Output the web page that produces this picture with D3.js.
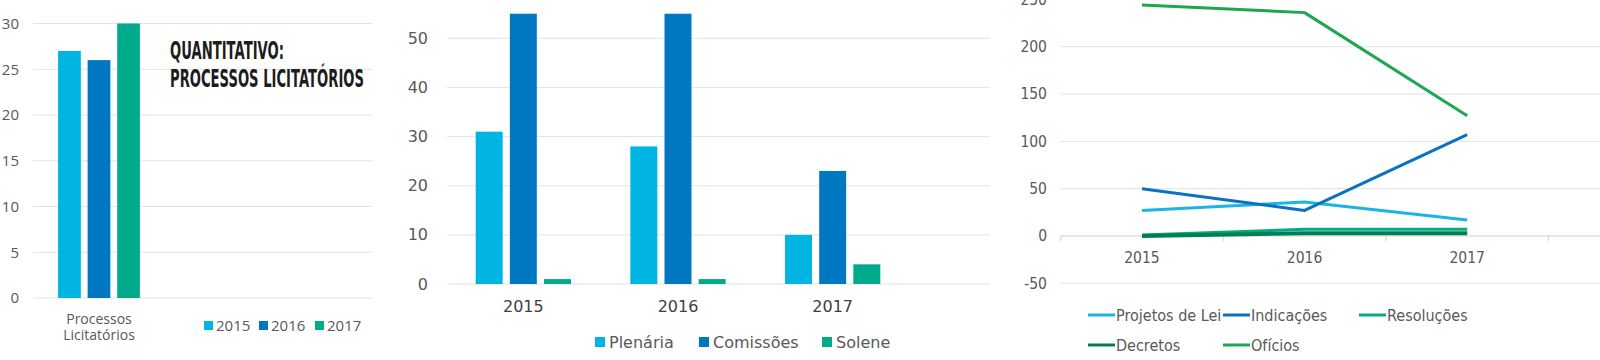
<!DOCTYPE html>
<html>
<head>
<meta charset="utf-8">
<script src="https://cdn.jsdelivr.net/npm/d3@7"></script>
<style>
  body { margin: 0; background: #fff; }
  svg { display: block; }
</style>
</head>
<body>
<svg id="chart" width="1600" height="360"></svg>
<script>
    // ---- data ----
    var years = ['2015', '2016', '2017'];

    // panel 1: processos licitatorios
    var licCategories = ['Processos Licitatórios'];
    var licValues = [27, 26, 30];            // 2015, 2016, 2017
    var licTicks = [0, 5, 10, 15, 20, 25, 30];

    // panel 2: sessoes
    var sessionSeries = ['Plenária', 'Comissões', 'Solene'];
    var plenaria = [31, 28, 10];
    var comissoes = [55, 55, 23];
    var solene = [1, 1, 4];
    var sessionTicks = [0, 10, 20, 30, 40, 50];

    // panel 3: proposicoes
    var propSeries = ['Projetos de Lei', 'Indicações', 'Resoluções', 'Decretos', 'Ofícios'];
    var projetos = [27, 36, 17];
    var indicacoes = [50, 27, 107];
    var resolucoes = [1, 7, 7];
    var decretos = [0, 3, 3];
    var oficios = [244, 236, 127];
    var propTicks = [-50, 0, 50, 100, 150, 200, 250];

    var barColors = ['#00b5e2', '#0078c1', '#00ab8c'];
    var lineColors = ['#1ab4e6', '#0a72c0', '#00ab8c', '#00804e', '#1ea651'];

    var chart = d3.select('#chart');
    var gridColor = '#e3e3e3';
    var labelColor = '#595959';

    // -----------------------------------
    // Panel 1
    var p1 = chart.append('g');
    var y1 = d3.scaleLinear().domain([0, 30]).range([298, 23.5]);
    var x1 = d3.scaleBand().domain(licCategories).range([33, 165]).paddingInner(0.38).paddingOuter(0.19);
    var x1s = d3.scaleBand().domain(years).range([0, x1.bandwidth()]).paddingInner(0.23);

    p1.selectAll('line.grid').data(licTicks).enter().append('line')
        .attr('x1', 33).attr('x2', 372)
        .attr('y1', function(d){ return y1(d); }).attr('y2', function(d){ return y1(d); })
        .attr('stroke', gridColor).attr('stroke-width', 1);

    p1.selectAll('text.tick').data(licTicks).enter().append('text')
        .attr('x', 19).attr('y', function(d){ return y1(d); })
        .attr('dy', '0.35em').attr('text-anchor', 'end')
        .style('font', '15px "Open Sans"').attr('fill', labelColor)
        .text(function(d){ return d; });

    p1.selectAll('rect.bar').data(licValues).enter().append('rect')
        .attr('x', function(d, i){ return x1(licCategories[0]) + x1s(years[i]); })
        .attr('y', function(d){ return y1(d); })
        .attr('width', x1s.bandwidth())
        .attr('height', function(d){ return y1(0) - y1(d); })
        .attr('fill', function(d, i){ return barColors[i]; });

    var catLabel = p1.append('text')
        .attr('x', x1(licCategories[0]) + x1.bandwidth() / 2).attr('y', 324)
        .attr('text-anchor', 'middle')
        .style('font', '14px "Open Sans"').attr('fill', labelColor);
    catLabel.append('tspan').attr('x', x1(licCategories[0]) + x1.bandwidth() / 2).text('Processos');
    catLabel.append('tspan').attr('x', x1(licCategories[0]) + x1.bandwidth() / 2).attr('dy', 16).text('Licitatórios');

    var leg1X = [204, 259, 315];
    years.forEach(function(yr, i) {
        p1.append('rect').attr('x', leg1X[i]).attr('y', 321).attr('width', 9).attr('height', 9).attr('fill', barColors[i]);
        p1.append('text').attr('x', leg1X[i] + 12).attr('y', 325.5).attr('dy', '0.35em')
            .style('font', '15px "Open Sans"').attr('fill', labelColor).text(yr);
    });

    // title, squeezed horizontally to a condensed look
    function title(txt, y, w) {
        var t = p1.append('text').attr('x', 0).attr('y', 0)
            .style('font', 'bold 25px "DejaVu Sans"')
            .attr('fill', '#1c1c1c').text(txt);
        var sx = w / t.node().getComputedTextLength();
        t.attr('transform', 'translate(170,' + y + ') scale(' + sx + ',1)');
    }
    title('QUANTITATIVO:', 59, 114);
    title('PROCESSOS LICITATÓRIOS', 87, 194);

    // -----------------------------------
    // Panel 2
    var p2 = chart.append('g');
    var y2 = d3.scaleLinear().domain([0, 50]).range([284, 38.3]);
    var x2 = d3.scaleBand().domain(years).range([446, 910]).paddingInner(0.384).paddingOuter(0.192);
    var x2s = d3.scaleBand().domain(sessionSeries).range([0, x2.bandwidth()]).paddingInner(0.21);
    var sessionData = [plenaria, comissoes, solene];

    p2.selectAll('line.grid').data(sessionTicks).enter().append('line')
        .attr('x1', 447).attr('x2', 990)
        .attr('y1', function(d){ return y2(d); }).attr('y2', function(d){ return y2(d); })
        .attr('stroke', gridColor).attr('stroke-width', 1);

    p2.selectAll('text.tick').data(sessionTicks).enter().append('text')
        .attr('x', 428).attr('y', function(d){ return y2(d); })
        .attr('dy', '0.35em').attr('text-anchor', 'end')
        .style('font', '16px "DejaVu Sans"').attr('fill', labelColor)
        .text(function(d){ return d; });

    sessionSeries.forEach(function(s, si) {
        p2.selectAll('rect.s' + si).data(sessionData[si]).enter().append('rect')
            .attr('x', function(d, i){ return x2(years[i]) + x2s(s); })
            .attr('y', function(d){ return y2(d); })
            .attr('width', x2s.bandwidth())
            .attr('height', function(d){ return y2(0) - y2(d); })
            .attr('fill', barColors[si]);
    });

    p2.selectAll('text.xl').data(years).enter().append('text')
        .attr('x', function(d){ return x2(d) + x2.bandwidth() / 2; }).attr('y', 306)
        .attr('dy', '0.35em').attr('text-anchor', 'middle')
        .style('font', '16px "DejaVu Sans"').attr('fill', '#404040')
        .text(function(d){ return d; });

    var leg2X = [595, 699, 822];
    sessionSeries.forEach(function(s, i) {
        p2.append('rect').attr('x', leg2X[i]).attr('y', 337).attr('width', 10).attr('height', 10).attr('fill', barColors[i]);
        p2.append('text').attr('x', leg2X[i] + 14).attr('y', 342).attr('dy', '0.35em')
            .style('font', '16px "DejaVu Sans"').attr('fill', labelColor).text(s);
    });

    // -----------------------------------
    // Panel 3
    var p3 = chart.append('g');
    var y3 = d3.scaleLinear().domain([0, 200]).range([236, 46.7]);
    var x3b = d3.scaleBand().domain(years).range([1060.7, 1548.5]);
    var x3 = function(d){ return x3b(d) + x3b.bandwidth() / 2; };
    var propData = [projetos, indicacoes, resolucoes, decretos, oficios];

    p3.selectAll('line.grid').data(propTicks.filter(function(d){ return d !== 0; })).enter().append('line')
        .attr('x1', 1060.7).attr('x2', 1600)
        .attr('y1', function(d){ return y3(d); }).attr('y2', function(d){ return y3(d); })
        .attr('stroke', gridColor).attr('stroke-width', 1);

    // zero axis with ticks between categories
    var xAxis = d3.axisBottom(x3b).tickSize(0).tickFormat('');
    p3.append('g').attr('transform', 'translate(0,' + y3(0) + ')').call(xAxis)
        .call(function(g){ g.select('.domain').attr('stroke', '#d0d0d0').attr('d', 'M1060.7,0H1600'); });
    p3.selectAll('line.xt').data([0, 1, 2, 3]).enter().append('line')
        .attr('x1', function(d){ return 1060.7 + d * x3b.step(); })
        .attr('x2', function(d){ return 1060.7 + d * x3b.step(); })
        .attr('y1', y3(0)).attr('y2', y3(0) + 5)
        .attr('stroke', '#d0d0d0');

    p3.selectAll('text.tick').data(propTicks).enter().append('text')
        .attr('x', 1047).attr('y', function(d){ return y3(d); })
        .attr('dy', '0.35em').attr('text-anchor', 'end')
        .style('font', '15.5px "DejaVu Sans Condensed", "DejaVu Sans"').attr('fill', labelColor)
        .text(function(d){ return d; });

    p3.selectAll('text.xl').data(years).enter().append('text')
        .attr('x', function(d){ return x3(d); }).attr('y', 258)
        .attr('dy', '0.35em').attr('text-anchor', 'middle')
        .style('font', '15.5px "DejaVu Sans Condensed", "DejaVu Sans"').attr('fill', labelColor)
        .text(function(d){ return d; });

    var line = d3.line()
        .x(function(d, i){ return x3(years[i]); })
        .y(function(d){ return y3(d); });

    propData.forEach(function(vals, si) {
        p3.append('path').datum(vals)
            .attr('d', line)
            .attr('fill', 'none')
            .attr('stroke', lineColors[si])
            .attr('stroke-width', si === 3 ? 4 : 3)
            .attr('stroke-linejoin', 'round');
    });

    var leg3Pos = [[1088, 315], [1223, 315], [1359, 315], [1088, 345], [1223, 345]];
    propSeries.forEach(function(s, i) {
        var px = leg3Pos[i][0], py = leg3Pos[i][1];
        p3.append('line').attr('x1', px).attr('x2', px + 27).attr('y1', py).attr('y2', py)
            .attr('stroke', lineColors[i]).attr('stroke-width', 3);
        p3.append('text').attr('x', px + 28).attr('y', py).attr('dy', '0.35em')
            .style('font', '16px "DejaVu Sans Condensed", "DejaVu Sans"').attr('fill', labelColor).text(s);
    });
</script>
</body>
</html>
